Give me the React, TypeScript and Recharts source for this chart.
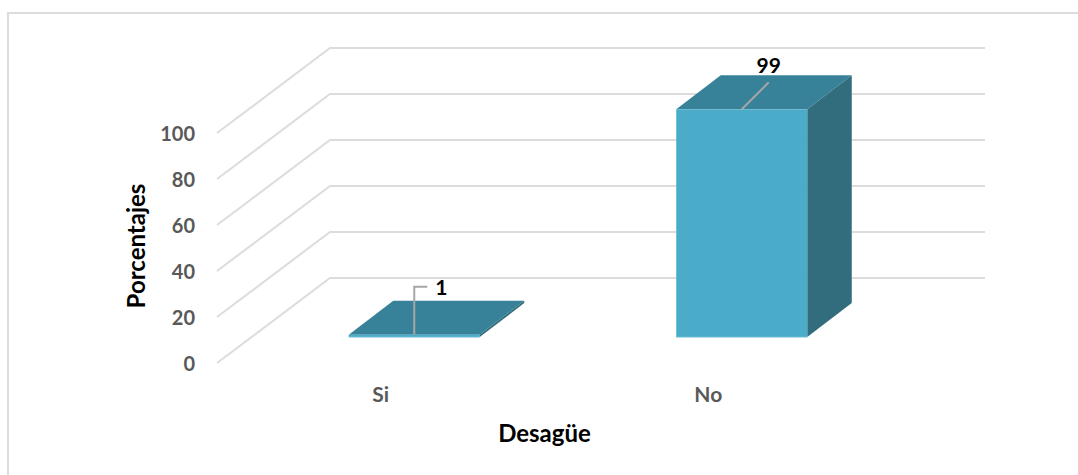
import { Bar, BarChart, CartesianGrid, LabelList, XAxis, YAxis } from "recharts";

const CATEGORIES = ["Si", "No"];
const VALUES = [1, 99];
const Y_TICKS = [0, 20, 40, 60, 80, 100];

const data = CATEGORIES.map((name, i) => ({ name, value: VALUES[i] }));

const FRONT = "#4AACC8";
const EDGE = "#6DBCD3";
const TOP = "#388299";
const SIDE = "#326D7D";
const GRID = "#DCDCDC";

// wall depth and bar depth of the fake 3d box
const WALL_DX = 113;
const WALL_DY = -85;
const BAR_DX = 44.5;
const BAR_DY = -34;
const BAR_SHIFT_X = 33.5;
const BAR_SHIFT_Y = -26;

function GridLine(props: any) {
  const { x1, x2, y1 } = props;
  return (
    <polyline
      points={`${x1},${y1} ${x1 + WALL_DX},${y1 + WALL_DY} ${x2 + WALL_DX},${y1 + WALL_DY}`}
      fill="none"
      stroke={GRID}
      strokeWidth={2}
    />
  );
}

function Box3d(props: any) {
  const x = props.x + BAR_SHIFT_X;
  const y = props.y + BAR_SHIFT_Y;
  const { width: w, height: h } = props;
  return (
    <g>
      <polygon
        points={`${x},${y} ${x + BAR_DX},${y + BAR_DY} ${x + w + BAR_DX},${y + BAR_DY} ${x + w},${y}`}
        fill={TOP}
      />
      <polygon
        points={`${x + w},${y} ${x + w + BAR_DX},${y + BAR_DY} ${x + w + BAR_DX},${y + h + BAR_DY} ${x + w},${y + h}`}
        fill={SIDE}
      />
      <rect x={x} y={y} width={w} height={h} fill={FRONT} />
      <line x1={x} y1={y + h} x2={x + w} y2={y + h} stroke={EDGE} strokeWidth={1} />
    </g>
  );
}

function ValueLabel(props: any) {
  const { x, y, width, value } = props;
  const cx = x + BAR_SHIFT_X + width / 2;
  const top = y + BAR_SHIFT_Y;
  const textStyle = { fontSize: 21, fontWeight: 700, fill: "#000" };
  if (value < 10) {
    return (
      <g>
        <polyline
          points={`${cx},${top} ${cx},${top - 48} ${cx + 13},${top - 48}`}
          fill="none"
          stroke="#A6A6A6"
          strokeWidth={2}
        />
        <text x={cx + 27} y={top - 48} textAnchor="middle" dominantBaseline="central" {...textStyle}>
          {value}
        </text>
      </g>
    );
  }
  return (
    <g>
      <line x1={cx} y1={top} x2={cx + 27} y2={top - 27} stroke="#A6A6A6" strokeWidth={2} />
      <text x={cx + 27} y={top - 45} textAnchor="middle" dominantBaseline="central" {...textStyle}>
        {value}
      </text>
    </g>
  );
}

export default function App() {
  return (
    <div style={{ position: "absolute", left: 0, top: 0, width: 1078, height: 475, overflow: "hidden", fontFamily: "Lato, sans-serif" }}>
      <div
        style={{
          position: "absolute",
          left: 7,
          top: 12,
          width: 1071,
          height: 463,
          borderLeft: "2px solid #DCDCDC",
          borderTop: "2px solid #DCDCDC",
        }}
      />
      <BarChart
        width={1078}
        height={475}
        data={data}
        margin={{ top: 133, right: 206, bottom: 0, left: 0 }}
        barCategoryGap="30%"
        style={{ position: "absolute", left: 0, top: 0 }}
      >
        <CartesianGrid vertical={false} horizontal={<GridLine />} />
        <XAxis
          dataKey="name"
          height={112}
          axisLine={false}
          tickLine={false}
          tickSize={0}
          tickMargin={24}
          tick={{ fontSize: 21, fontWeight: 700, fill: "#595959" }}
          label={{ value: "Desagüe", position: "insideBottom", offset: 33, fontSize: 24, fontWeight: 700, fill: "#000" }}
        />
        <YAxis
          width={217}
          domain={[0, 100]}
          ticks={Y_TICKS}
          axisLine={false}
          tickLine={false}
          tickSize={0}
          tickMargin={22}
          tick={{ fontSize: 20, fontWeight: 700, fill: "#595959", dy: 1 }}
          label={{ value: "Porcentajes", angle: -90, position: "insideLeft", offset: 136, dy: -2, textAnchor: "middle", fontSize: 24, fontWeight: 700, fill: "#000" }}
        />
        <Bar dataKey="value" shape={<Box3d />} isAnimationActive={false}>
          <LabelList dataKey="value" content={<ValueLabel />} />
        </Bar>
      </BarChart>
    </div>
  );
}
